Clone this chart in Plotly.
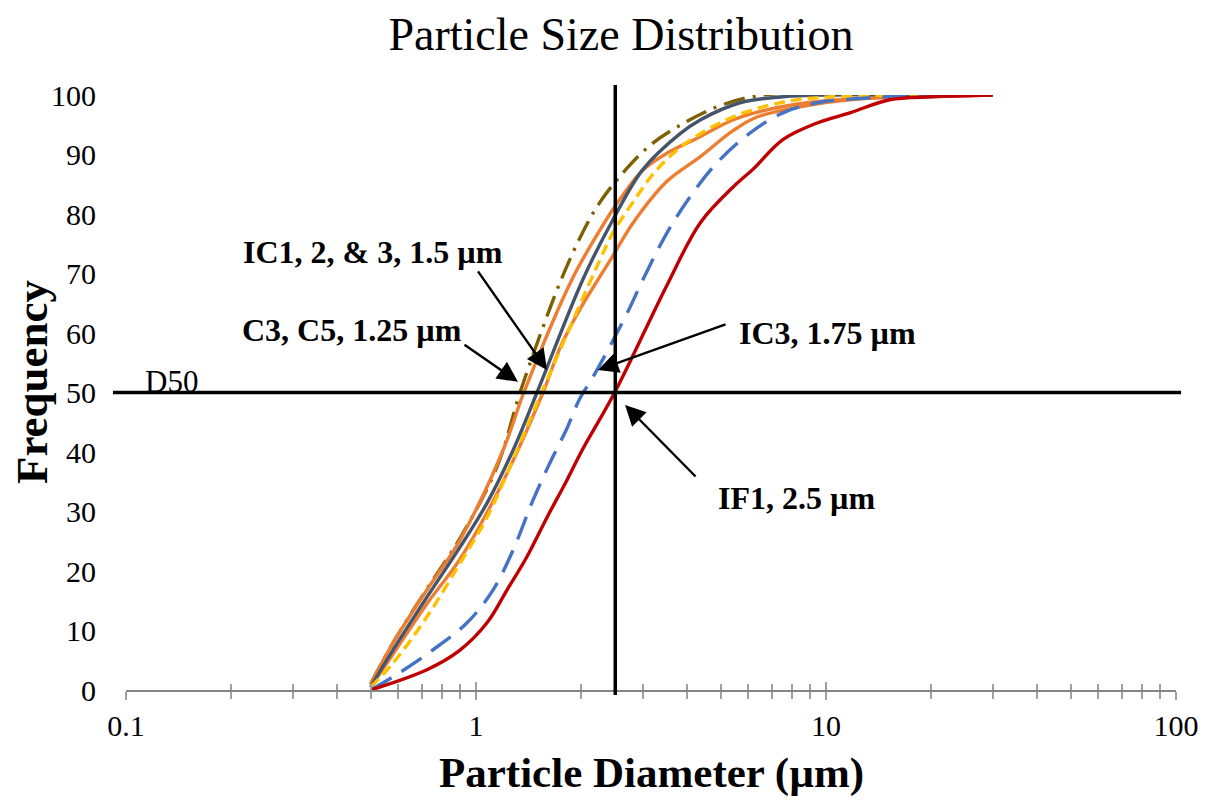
import math
import plotly.graph_objects as go

# ---- data (particle diameter in µm, cumulative frequency %) ----
olive_d = [0.5, 0.579, 0.724, 0.90, 1.148, 1.336, 1.554, 1.738, 1.982, 2.261, 2.75, 3.2, 3.75, 4.88, 6.6, 30]
olive_v = [1, 7.9, 17, 25.5, 37.5, 50, 61, 68.5, 76, 82, 88.2, 91.9, 94.6, 98, 100, 100]

orange1_d = [0.5, 0.579, 0.724, 0.90, 1.195, 1.37, 1.88, 2.26, 2.53, 3.0, 3.51, 4.37, 5.42, 6.78, 8.82, 13.1, 20.2, 30]
orange1_v = [1, 7.9, 16.8, 25.2, 40.3, 50, 69, 77.3, 81.8, 87.4, 90.2, 93, 95.8, 97.5, 98.7, 99.5, 99.8, 100]

orange2_d = [0.5, 0.579, 0.724, 0.90, 1.171, 1.554, 1.738, 1.982, 2.261, 2.463, 2.809, 3.513, 4.365, 5.424, 6.35, 8.43, 11.7, 20.2, 30]
orange2_v = [0.5, 6, 14.5, 22, 34, 50, 57.5, 64, 69.5, 73, 78.5, 85.5, 89.6, 94, 96.3, 98, 99.2, 99.8, 100]

slate_d = [0.5, 0.579, 0.724, 0.90, 1.075, 1.276, 1.494, 2.02, 2.46, 3.0, 3.83, 4.37, 5.68, 7.53, 10.4, 30]
slate_v = [0.5, 6.7, 15.6, 24, 31.4, 40.3, 50, 69, 79, 87.5, 93.5, 95.8, 98.7, 99.7, 100, 100]

yellow_d = [0.5, 0.579, 0.724, 0.90, 1.075, 1.31, 1.54, 2.26, 2.46, 2.81, 3.29, 4.09, 5.42, 7.53, 10.4, 30]
yellow_v = [0.5, 4.5, 12.3, 21.3, 29, 40.3, 50, 72.3, 76.8, 82, 87.5, 92.4, 96.3, 98.8, 99.7, 100]

blue_d = [0.5, 0.579, 0.739, 0.943, 1.118, 1.276, 1.455, 1.627, 1.82, 1.98, 2.159, 2.701, 3.0, 3.51, 4.09, 4.88, 6.06, 7.53, 9.43, 13.1, 20.2, 30]
blue_v = [0, 2.2, 6.4, 11.3, 16.8, 23.5, 31.9, 38.2, 44, 49, 52.6, 63.3, 69, 76.8, 82.9, 88.6, 93.6, 97, 98.7, 99.5, 100, 100]

red_d = [0.5, 0.724, 0.90, 1.075, 1.226, 1.398, 1.595, 1.82, 2.01, 2.49, 3.51, 4.37, 5.42, 6.18, 7.53, 9.43, 11.7, 15.2, 20.2, 30]
red_v = [0, 3.4, 6.7, 11.3, 16.8, 22.4, 29, 35.3, 40.3, 50, 68, 78.5, 84.5, 87.5, 92.5, 95.3, 97, 99.2, 99.7, 100]

x_tick_vals = [0.1, 1, 10, 100]
x_tick_text = ["0.1", "1", "10", "100"]
y_tick_vals = [0, 10, 20, 30, 40, 50, 60, 70, 80, 90, 100]
minor_vals = [m * 10 ** e for e in (-1, 0, 1) for m in range(2, 10)]

d50_value = 50
d50_diameter = 2.5

# annotation arrows: (text, tip diameter, tip frequency)
arrow_tips = [
    ("IC1, 2, & 3, 1.5 µm", 1.595, 53.8),
    ("C3, C5, 1.25 µm", 1.318, 51.8),
    ("IC3, 1.75 µm", 2.232, 53.8),
    ("IF1, 2.5 µm", 2.666, 47.9),
]

FONT = "Liberation Serif, Times New Roman, serif"

fig = go.Figure()

series = [
    (olive_d, olive_v, "#7F6000", "22px,8px,3px,8px"),
    (orange1_d, orange1_v, "#ED7D31", "solid"),
    (orange2_d, orange2_v, "#ED7D31", "solid"),
    (slate_d, slate_v, "#44546A", "solid"),
    (yellow_d, yellow_v, "#FFC000", "11px,6px"),
    (blue_d, blue_v, "#4472C4", "24px,12px"),
    (red_d, red_v, "#C00000", "solid"),
]
for d, v, c, dash in series:
    fig.add_trace(go.Scatter(x=d, y=v, mode="lines",
                             line=dict(color=c, width=3.4, dash=dash, shape="spline", smoothing=1.0),
                             showlegend=False, hoverinfo="skip"))

# invisible trace for overlay axis (upward tick halves)
fig.add_trace(go.Scatter(x=[1], y=[0], xaxis="x2", mode="markers", marker=dict(opacity=0),
                         showlegend=False, hoverinfo="skip"))

# D50 lines
fig.add_shape(type="line", xref="paper", yref="y", x0=-0.0124, x1=1.0048, y0=d50_value, y1=d50_value,
              line=dict(color="black", width=3.5))
fig.add_shape(type="line", xref="x", yref="paper", x0=d50_diameter, x1=d50_diameter, y0=-0.0084, y1=1.017,
              line=dict(color="black", width=3.5))

# arrows
tails = [(-70, -100), (-55, -38), (129, -46), (72, 73)]
for (txt, dd, vv), (ax, ay) in zip(arrow_tips, tails):
    fig.add_annotation(x=math.log10(dd), y=vv, xref="x", yref="y", ax=ax, ay=ay, axref="pixel", ayref="pixel",
                       text="", showarrow=True, arrowhead=2, arrowsize=1.7, arrowwidth=2.4,
                       arrowcolor="black", standoff=0)

# labels
label_pos = [(0.2352, 0.7361), (0.2157, 0.605), (0.668, 0.600), (0.6386, 0.3227)]
for (txt, _, _), (px, py) in zip(arrow_tips, label_pos):
    fig.add_annotation(x=px, y=py, xref="paper", yref="paper", text="<b>" + txt + "</b>", showarrow=False,
                       xanchor="center", yanchor="middle", font=dict(family=FONT, size=32, color="black"))
fig.add_annotation(x=0.0433, y=0.518, xref="paper", yref="paper", text="D50", showarrow=False,
                   xanchor="center", yanchor="middle", font=dict(family=FONT, size=31, color="black"))

# axis titles
fig.add_annotation(x=0.5, y=-0.1395, xref="paper", yref="paper", text="<b>Particle Diameter (µm)</b>",
                   showarrow=False, xanchor="center", yanchor="middle",
                   font=dict(family=FONT, size=43, color="black"))
fig.add_annotation(x=-0.0895, y=0.5176, xref="paper", yref="paper", text="<b>Frequency</b>", textangle=-90,
                   showarrow=False, xanchor="center", yanchor="middle",
                   font=dict(family=FONT, size=45, color="black"))

axis_common = dict(type="log", range=[-1, 2], showgrid=False, zeroline=False, automargin=False)
fig.update_layout(
    width=1208, height=805,
    margin=dict(l=118, r=40, t=87, b=123),
    paper_bgcolor="white", plot_bgcolor="white",
    font=dict(family=FONT, color="black"),
    title=dict(text="Particle Size Distribution", x=613 / 1208, xanchor="center", xref="container",
               y=1 - 26 / 805, yanchor="middle", yref="container",
               font=dict(family=FONT, size=46, color="black")),
    xaxis=dict(**axis_common, showline=True, linecolor="#868686", linewidth=2,
               tickmode="array", tickvals=x_tick_vals, ticktext=x_tick_text,
               ticks="outside", ticklen=8, tickwidth=1.5, tickcolor="#A0A0A0",
               minor=dict(tickmode="array", tickvals=minor_vals, ticks="outside", ticklen=7, tickwidth=1.5,
                          tickcolor="#A0A0A0", showgrid=False),
               tickfont=dict(family=FONT, size=30, color="black"), ticklabelstandoff=0),
    xaxis2=dict(**axis_common, overlaying="x", anchor="y", side="bottom", showline=False,
                tickmode="array", tickvals=x_tick_vals, ticks="inside", ticklen=8, tickwidth=1.5,
                tickcolor="#A0A0A0",
                minor=dict(tickmode="array", tickvals=minor_vals, ticks="inside", ticklen=6, tickwidth=1.5,
                           tickcolor="#A0A0A0", showgrid=False),
                showticklabels=False),
    yaxis=dict(range=[0, 100], showgrid=False, zeroline=False, showline=False, ticks="", automargin=False,
               tickmode="array", tickvals=y_tick_vals, tickfont=dict(family=FONT, size=30, color="black"),
               ticklabelstandoff=29),
)

fig.write_html("out.html")
